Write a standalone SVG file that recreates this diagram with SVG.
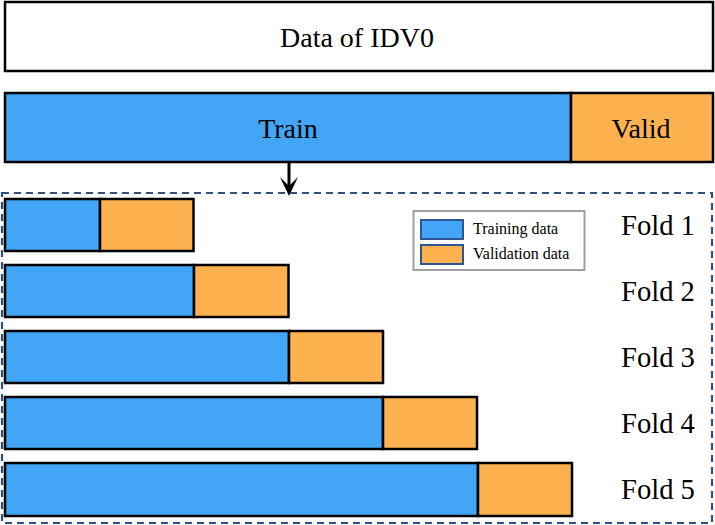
<svg xmlns="http://www.w3.org/2000/svg" width="715" height="525" viewBox="0 0 715 525">
<style>
.bar{stroke:#000;stroke-width:2.5}
.tr{fill:#43A5F5}
.va{fill:#FDB24F}
.big{font-family:"Liberation Serif","Times New Roman",serif;font-size:28px;fill:#000}
.fold{font-family:"Liberation Serif","Times New Roman",serif;font-size:28.6px;fill:#000}
.leg{font-family:"Liberation Serif","Times New Roman",serif;font-size:16px;fill:#000}
.sw{stroke:#2F5597;stroke-width:2}
</style>
<rect width="715" height="525" fill="#fff"/>
<g id="data">
<rect x="5" y="2" width="708" height="69" fill="#fff" class="bar"/>
<text x="357" y="47" text-anchor="middle" class="big">Data of IDV0</text>
</g>
<g id="split">
<rect x="5" y="93" width="566" height="69" class="bar tr"/>
<rect x="571" y="93" width="142" height="69" class="bar va"/>
<text x="288" y="138" text-anchor="middle" class="big">Train</text>
<text x="641" y="138" text-anchor="middle" class="big">Valid</text>
</g>
<g id="connectors">
<line x1="289" y1="162" x2="289" y2="190" stroke="#000" stroke-width="3"/>
<path d="M280,177 L289,196 L298,177 L289,186 Z" fill="#000"/>
</g>
<g id="folds">
<rect x="2" y="193" width="710" height="330" fill="none" stroke="#2F4F7F" stroke-width="2.2" stroke-dasharray="7,5"/>
<g id="fold1">
<rect x="5" y="199" width="95" height="52" class="bar tr"/>
<rect x="100" y="199" width="93.5" height="52" class="bar va"/>
<text x="621" y="235" class="fold">Fold 1</text>
</g>
<g id="fold2">
<rect x="5" y="265" width="189" height="52" class="bar tr"/>
<rect x="194" y="265" width="94.5" height="52" class="bar va"/>
<text x="621" y="301" class="fold">Fold 2</text>
</g>
<g id="fold3">
<rect x="5" y="331" width="284" height="52" class="bar tr"/>
<rect x="289" y="331" width="94" height="52" class="bar va"/>
<text x="621" y="367" class="fold">Fold 3</text>
</g>
<g id="fold4">
<rect x="5" y="397" width="378" height="52" class="bar tr"/>
<rect x="383" y="397" width="94" height="52" class="bar va"/>
<text x="621" y="433" class="fold">Fold 4</text>
</g>
<g id="fold5">
<rect x="5" y="463" width="473" height="53" class="bar tr"/>
<rect x="478" y="463" width="94" height="53" class="bar va"/>
<text x="621" y="499" class="fold">Fold 5</text>
</g>
</g>
<g id="legend">
<rect x="413.5" y="211" width="171" height="59" fill="#fff" stroke="#A0A0A0" stroke-width="2"/>
<rect x="421" y="220" width="42" height="19" class="sw tr"/>
<rect x="421" y="245" width="42" height="19" class="sw va"/>
<text x="473" y="234" class="leg">Training data</text>
<text x="473" y="259" class="leg">Validation data</text>
</g>
</svg>
